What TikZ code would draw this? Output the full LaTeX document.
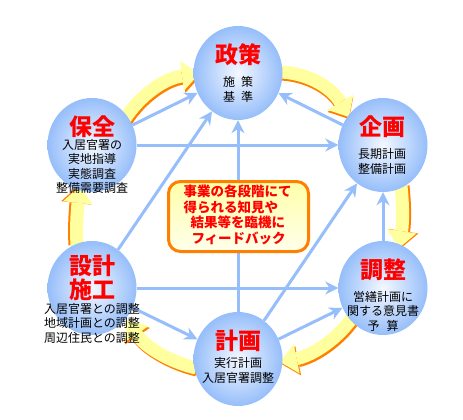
\documentclass[tikz,border=0pt]{standalone}
\usepackage{fontspec}
\setmainfont{Noto Sans CJK JP}
\usetikzlibrary{shapes.geometric,arrows.meta}
\pgfdeclarelayer{bg}
\pgfsetlayers{bg,main}
\definecolor{cblue}{RGB}{150,190,250}
\definecolor{cin}{RGB}{244,248,255}
\definecolor{yfill}{RGB}{255,255,160}
\definecolor{corange}{RGB}{255,128,0}
\definecolor{cred}{RGB}{255,0,0}
\definecolor{boxtop}{RGB}{255,255,170}
\definecolor{boxbot}{RGB}{255,255,235}
\begin{document}
\begin{tikzpicture}[x=1pt,y=-1pt,
  bubble/.style={ellipse,minimum width=89pt,minimum height=94pt,inner sep=0pt,inner color=cin,outer color=cblue},
  title/.style={text=cred,inner sep=0pt,align=center,font=\fontsize{23}{24}\selectfont\bfseries},
  sub/.style={align=center,inner sep=0pt,font=\fontsize{12}{14.5}\selectfont},
  barrow/.style={draw=cblue,line width=3pt,-{Stealth[length=13pt,width=13pt]}},
  yarrow/.style={line width=13pt,draw=yfill,-{Triangle[length=17pt,width=30pt,line width=0pt]}},
  yshadow/.style={line width=13pt,draw=corange,-{Triangle[length=17pt,width=30pt,line width=0pt]}},
  fbbox/.style={rectangle,rounded corners=12pt,draw=corange,line width=3pt,top color=boxtop,bottom color=boxbot,minimum width=140pt,minimum height=70pt},
  fbtext/.style={align=left,inner sep=0pt,text=cred,font=\fontsize{13.5}{15.5}\selectfont\bfseries}]
\useasboundingbox (0,0) rectangle (463,420);

% circles
\node[bubble] (seisaku) at (238,73) {};
\node[bubble] (kikaku)  at (383,145) {};
\node[bubble] (hozen)   at (92,145) {};
\node[bubble] (sekkei)  at (92,288) {};
\node[bubble] (chosei)  at (383,288) {};
\node[bubble] (keikaku) at (238,359) {};

% big yellow cycle arrows
\begin{pgfonlayer}{bg}
\foreach \sx/\sy/\a/\b/\c/\d in {
   1.5/2/{124,120}/{140,95}/{165,78}/{199,74},
   0/2/{282,72}/{310,74}/{332,88}/{349,117},
   2/0/{401,186}/{403,205}/{403,222}/{399,248},
   1.5/2/{352,318}/{335,342}/{310,356}/{280,362},
   1/2/{196,368}/{170,362}/{145,347}/{127,320},
  -2/0/{77,245}/{76,230}/{77,212}/{80,186}}{
  \draw[yshadow,shift={(\sx,\sy)}] (\a) .. controls (\b) and (\c) .. (\d);
  \draw[yarrow] (\a) .. controls (\b) and (\c) .. (\d);
}
\end{pgfonlayer}

% blue arrows
\draw[barrow] (hozen) -- (seisaku);
\draw[barrow] (hozen) -- (kikaku);
\draw[barrow] (sekkei) -- (seisaku);
\draw[barrow] (keikaku) -- (seisaku);
\draw[barrow] (kikaku) -- (seisaku);
\draw[barrow] (keikaku) -- (kikaku);
\draw[barrow] (chosei) -- (kikaku);
\draw[barrow] (sekkei) -- (chosei);
\draw[barrow] (sekkei) -- (keikaku);
\draw[barrow] (keikaku) -- (chosei);

% feedback box
\node[fbbox] (fb) at (238.5,216.5) {};
\node[fbtext] (fbt) at (237.5,215) {事業の各段階にて\\得られる知見や\\\hspace*{7pt}結果等を臨機に\\\hspace*{8pt}フィードバック};

% texts
\node[title] (t1) at (238,55) {政策};
\node[sub] (s1) at (238,89.5) {施\hspace{6pt}策\\基\hspace{6pt}準};
\node[title] (t2) at (382,127) {企画};
\node[sub] (s2) at (382,161.5) {長期計画\\整備計画};
\node[title] (t3) at (92,127) {保全};
\node[sub] (s3) at (92,166.5) {入居官署の\\実地指導\\実態調査\\整備需要調査};
\node[title] (t4) at (92,278) {設計\\施工};
\node[sub] (s4) at (92,323) {入居官署との調整\\地域計画との調整\\周辺住民との調整};
\node[title] (t5) at (383,270) {調整};
\node[sub] (s5) at (383,311) {営繕計画に\\関する意見書\\予\hspace{7pt}算};
\node[title] (t6) at (238,341) {計画};
\node[sub] (s6) at (238,370.5) {実行計画\\入居官署調整};
\end{tikzpicture}
\end{document}
